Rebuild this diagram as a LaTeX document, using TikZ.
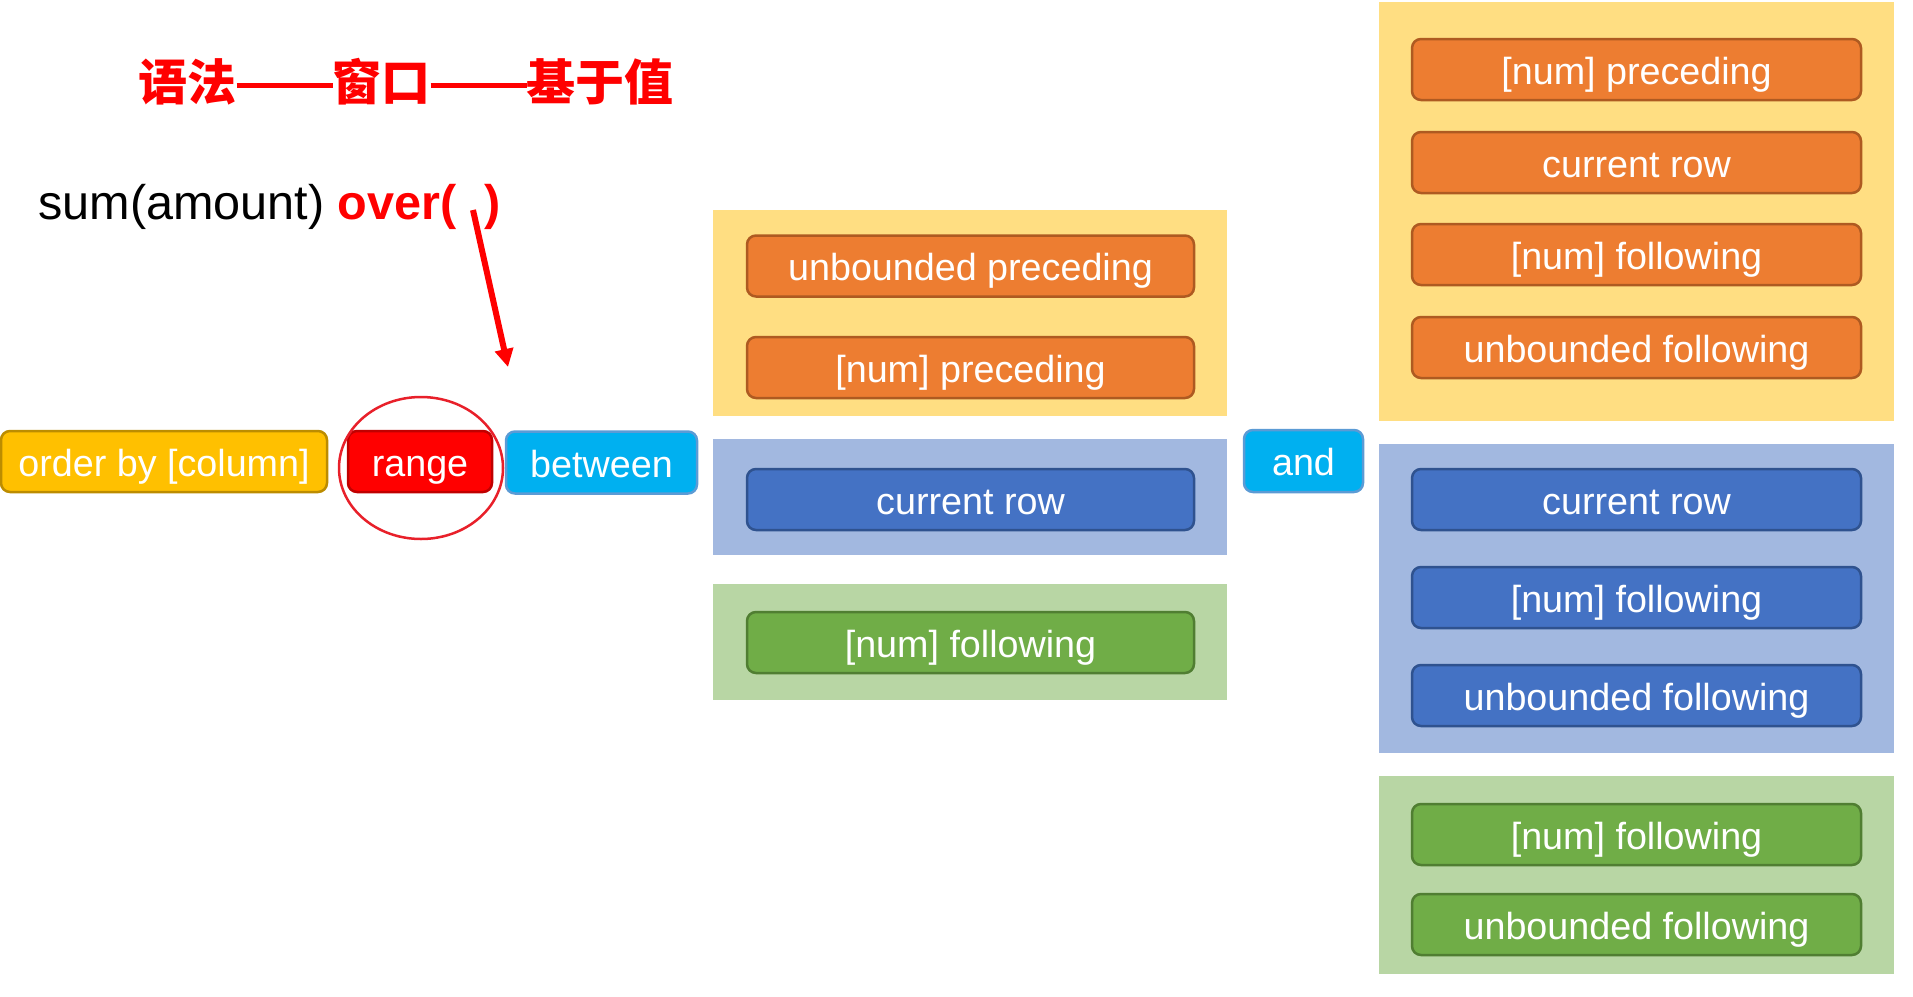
\documentclass[tikz,border=0pt]{standalone}
\usepackage{fontspec}
\setmainfont{Liberation Sans}
\newfontfamily\cjk{Noto Sans CJK SC}
\usetikzlibrary{arrows.meta,shapes.geometric}
\definecolor{orF}{HTML}{ED7D31}\definecolor{orD}{HTML}{AE5A21}
\definecolor{blF}{HTML}{4472C4}\definecolor{blD}{HTML}{2F528F}
\definecolor{grF}{HTML}{70AD47}\definecolor{grD}{HTML}{507E32}
\definecolor{goF}{HTML}{FFC000}\definecolor{goD}{HTML}{BC8C00}
\definecolor{rdF}{HTML}{FF0000}\definecolor{rdD}{HTML}{C00000}
\definecolor{cyF}{HTML}{00B0F0}\definecolor{cyD}{HTML}{5B9BD5}
\definecolor{pYel}{HTML}{FFDE82}\definecolor{pBlu}{HTML}{A2B8E0}\definecolor{pGrn}{HTML}{B8D6A4}
\definecolor{ringR}{HTML}{E8202A}
\newcommand{\tdash}{\rule[12pt]{96pt}{5pt}}
\tikzset{
  kbox/.style={rounded corners=9pt, line width=2.5pt, text=white, inner sep=0pt,
    font=\fontsize{37.7}{45}\selectfont, minimum height=61pt, text height=37pt, text depth=8pt},
  obox/.style={kbox, fill=orF, draw=orD},
  bbox/.style={kbox, fill=blF, draw=blD},
  gbox/.style={kbox, fill=grF, draw=grD},
  panel/.style={inner sep=0pt, draw=none},
}
\begin{document}
\begin{tikzpicture}[x=1pt,y=-1pt]
\useasboundingbox (0,0) rectangle (1913,996);
% title
\node[inner sep=0pt, anchor=base west, text=rdF, font=\cjk\bfseries\fontsize{49}{55}\selectfont] (title) at (138.5,100) {语法\tdash 窗口\tdash 基于值};
% formula
\node[inner sep=0pt, anchor=base west, font=\fontsize{48.6}{54}\selectfont] (formula) at (38,219)
  {sum(amount) \textcolor{rdF}{\bfseries over(\hspace{28pt})}};
\coordinate (arrS) at (473,210);
\coordinate (arrE) at (508,367);
\draw[rdF, line width=6pt, -{Triangle[length=18pt,width=18pt]}] (arrS) -- (arrE);
% left row
\node[kbox, fill=goF, draw=goD, minimum width=326pt] (order) at (164,461.5) {order by [column]};
\node[kbox, fill=rdF, draw=rdD, minimum width=144pt] (range) at (420,461.5) {range};
\node[draw=ringR, line width=2.5pt, ellipse, minimum width=164pt, minimum height=142pt, inner sep=0pt] (ring) at (421,468) {};
\node[kbox, fill=cyF, draw=cyD, minimum width=191pt, minimum height=62pt] (between) at (601.5,462.5) {between};
\node[kbox, fill=cyF, draw=cyD, minimum width=119pt, minimum height=62pt] (and) at (1303.5,461) {and};
% middle panels
\node[panel, fill=pYel, minimum width=514pt, minimum height=206pt] (mY) at (970,313) {};
\node[panel, fill=pBlu, minimum width=514pt, minimum height=116pt] (mB) at (970,497) {};
\node[panel, fill=pGrn, minimum width=514pt, minimum height=116pt] (mG) at (970,642) {};
\node[obox, minimum width=447pt] (m1) at (970.5,266) {unbounded preceding};
\node[obox, minimum width=447pt] (m2) at (970.5,367.5) {[num] preceding};
\node[bbox, minimum width=447pt] (m3) at (970.5,499.5) {current row};
\node[gbox, minimum width=447pt] (m4) at (970.5,642.5) {[num] following};
% right panels
\node[panel, fill=pYel, minimum width=515pt, minimum height=419pt] (rY) at (1636.5,211.5) {};
\node[panel, fill=pBlu, minimum width=515pt, minimum height=309pt] (rB) at (1636.5,598.5) {};
\node[panel, fill=pGrn, minimum width=515pt, minimum height=198pt] (rG) at (1636.5,875) {};
\node[obox, minimum width=449pt] (r1) at (1636.5,69.5) {[num] preceding};
\node[obox, minimum width=449pt] (r2) at (1636.5,162.5) {current row};
\node[obox, minimum width=449pt] (r3) at (1636.5,254.5) {[num] following};
\node[obox, minimum width=449pt] (r4) at (1636.5,347.5) {unbounded following};
\node[bbox, minimum width=449pt] (r5) at (1636.5,499.5) {current row};
\node[bbox, minimum width=449pt] (r6) at (1636.5,597.5) {[num] following};
\node[bbox, minimum width=449pt] (r7) at (1636.5,695.5) {unbounded following};
\node[gbox, minimum width=449pt] (r8) at (1636.5,834.5) {[num] following};
\node[gbox, minimum width=449pt] (r9) at (1636.5,924.5) {unbounded following};
\end{tikzpicture}
\end{document}
